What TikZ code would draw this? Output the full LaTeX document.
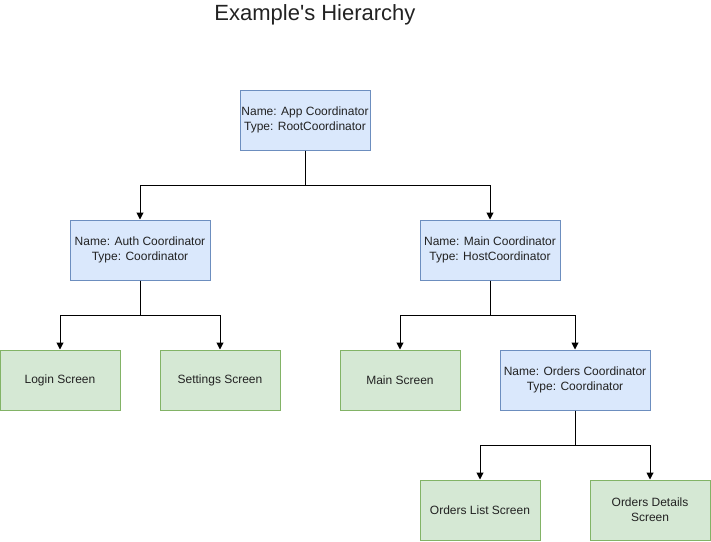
\documentclass[tikz,border=0pt]{standalone}
\usepackage{fontspec}
\setmainfont{Liberation Sans}
\usetikzlibrary{arrows.meta}
\definecolor{bluefill}{HTML}{DAE8FC}
\definecolor{blueline}{HTML}{6C8EBF}
\definecolor{greenfill}{HTML}{D5E8D4}
\definecolor{greenline}{HTML}{82B366}
\definecolor{txt}{HTML}{222222}
\tikzset{
  coord/.style={draw=blueline, fill=bluefill, line width=1pt, minimum width=#1, minimum height=60pt, inner sep=0pt, align=center, text=txt, font=\fontsize{12}{15}\selectfont},
  coord/.default=130pt,
  screen/.style={draw=greenline, fill=greenfill, line width=1pt, minimum width=120pt, minimum height=60pt, inner sep=0pt, align=center, text=txt, font=\fontsize{12}{15}\selectfont},
  conn/.style={line width=1pt, -{Triangle[length=7pt,width=7pt]}}
}
\begin{document}
\begin{tikzpicture}[x=1pt,y=-1pt]
\useasboundingbox (0,0) rectangle (711,541);
\node[text=txt] (title) at (315,15) {\fontsize{22}{26}\selectfont Example\textquotesingle s Hierarchy};
\node[coord] (app) at (305,120) {Name: App Coordinator\\Type: RootCoordinator};
\node[coord=140pt] (auth) at (140,250) {Name: Auth Coordinator\\Type: Coordinator};
\node[coord=140pt] (main) at (490,250) {Name: Main Coordinator\\Type: HostCoordinator};
\node[screen] (login) at (60,380) {Login Screen};
\node[screen] (settings) at (220,380) {Settings Screen};
\node[screen] (mainscr) at (400,380) {Main Screen};
\node[coord=150pt] (orders) at (575,380) {Name: Orders Coordinator\\Type: Coordinator};
\node[screen] (olist) at (480,510) {Orders List Screen};
\node[screen] (odet) at (650,510) {Orders Details\\Screen};
\draw[conn] (app.south) |- (140,185) -- (auth.north);
\draw[conn] (app.south) |- (490,185) -- (main.north);
\draw[conn] (auth.south) |- (60,315) -- (login.north);
\draw[conn] (auth.south) |- (220,315) -- (settings.north);
\draw[conn] (main.south) |- (400,315) -- (mainscr.north);
\draw[conn] (main.south) |- (575,315) -- (orders.north);
\draw[conn] (orders.south) |- (480,445) -- (olist.north);
\draw[conn] (orders.south) |- (650,445) -- (odet.north);
\end{tikzpicture}
\end{document}
